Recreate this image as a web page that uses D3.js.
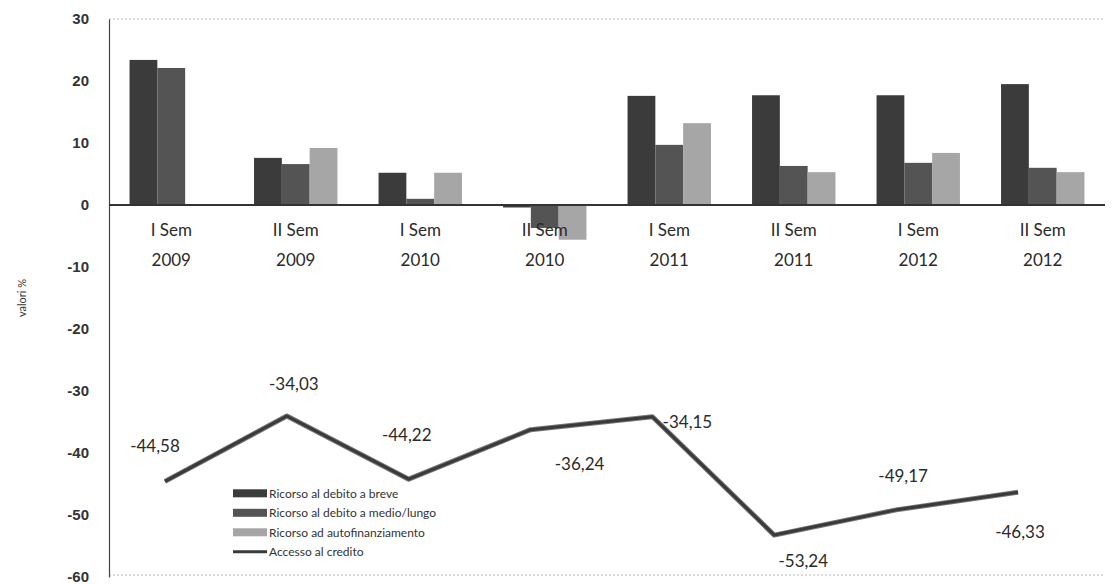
<!DOCTYPE html>
<html>
<head>
<meta charset="utf-8">
<script src="https://cdn.jsdelivr.net/npm/d3@7"></script>
<style>
  body { margin: 0; background: #fff; }
  svg { font-family: Lato, "Open Sans", sans-serif; }
  .tick-label { font-size: 15px; font-weight: bold; fill: #333; }
  .cat-label { font-size: 17px; fill: #2a2a2a; }
  .val-label { font-size: 17px; fill: #2a2a2a; }
  .legend text { font-size: 12px; fill: #333; }
</style>
</head>
<body>
<svg width="1112" height="584"></svg>
<script>
// categories and values
const categories = [["I Sem", "2009"], ["II Sem", "2009"], ["I Sem", "2010"], ["II Sem", "2010"],
                    ["I Sem", "2011"], ["II Sem", "2011"], ["I Sem", "2012"], ["II Sem", "2012"]];
const debitoBreve = [23.4, 7.6, 5.2, -0.4, 17.6, 17.7, 17.7, 19.5];
const debitoMedioLungo = [22.1, 6.6, 1.0, -3.7, 9.7, 6.3, 6.8, 6.0];
const autofinanziamento = [0, 9.2, 5.2, -5.6, 13.2, 5.3, 8.4, 5.3];
const accessoCredito = [-44.58, -34.03, -44.22, -36.24, -34.15, -53.24, -49.17, -46.33];
const yTicks = [30, 20, 10, 0, -10, -20, -30, -40, -50, -60];
const seriesNames = ["Ricorso al debito a breve", "Ricorso al debito a medio/lungo",
                     "Ricorso ad autofinanziamento", "Accesso al credito"];

const barColors = ["#3b3b3b", "#545454", "#a6a6a6"];
const lineColor = "#3a3a3a";
// where each value label sits relative to its point
const labelOffsets = [[-10, -36], [7, -32], [-2, -45], [49, 34], [35, 5], [29, 25], [7, -34], [2, 39]];

const svg = d3.select("svg");
const width = +svg.attr("width");
const height = +svg.attr("height");
const margin = { top: 19, right: 7, bottom: 7, left: 109 };

const keys = categories.map(c => c.join(" "));
const barSeries = [debitoBreve, debitoMedioLungo, autofinanziamento];

const x = d3.scaleBand().domain(keys).range([margin.left, width - margin.right]).paddingInner(0.33).paddingOuter(0.165);
const xSub = d3.scaleBand().domain(d3.range(3)).range([0, x.bandwidth()]);
const xLine = d3.scalePoint().domain(keys).range([margin.left + 56, width - margin.right - 87]);
const y = d3.scaleLinear().domain([-60, 30]).range([height - margin.bottom, margin.top]);

// frame
svg.append("line")
  .attr("x1", margin.left).attr("x2", width - margin.right)
  .attr("y1", y(30)).attr("y2", y(30))
  .attr("stroke", "#bbb").attr("stroke-dasharray", "2,2");
svg.append("line")
  .attr("x1", margin.left).attr("x2", width - margin.right)
  .attr("y1", y(-60) - 2).attr("y2", y(-60) - 2)
  .attr("stroke", "#bbb").attr("stroke-dasharray", "2,2");

// y axis
const yAxis = d3.axisLeft(y).tickValues(yTicks).tickSize(0).tickPadding(20)
  .tickFormat(d => String(d));
const yAxisG = svg.append("g").attr("transform", `translate(${margin.left},0)`).call(yAxis);
yAxisG.select(".domain").attr("stroke", "#444").attr("stroke-width", 1.2);
yAxisG.selectAll("text").attr("class", "tick-label");

svg.append("text")
  .attr("transform", `translate(26,${y(-15)}) rotate(-90)`)
  .attr("text-anchor", "middle")
  .style("font-size", "11px").style("fill", "#333")
  .text("valori %");

// bars
const groups = svg.append("g").selectAll("g")
  .data(keys).join("g")
  .attr("transform", d => `translate(${x(d)},0)`);
groups.selectAll("rect")
  .data((d, i) => barSeries.map((s, k) => ({ k, v: s[i] })))
  .join("rect")
  .attr("x", d => xSub(d.k))
  .attr("width", xSub.bandwidth())
  .attr("y", d => y(Math.max(0, d.v)))
  .attr("height", d => Math.abs(y(d.v) - y(0)))
  .attr("fill", d => barColors[d.k]);

// zero line
svg.append("line")
  .attr("x1", margin.left).attr("x2", width - margin.right)
  .attr("y1", y(0)).attr("y2", y(0))
  .attr("stroke", "#333").attr("stroke-width", 2);

// category labels
const cat = svg.append("g").selectAll("text")
  .data(categories).join("text")
  .attr("class", "cat-label")
  .attr("text-anchor", "middle")
  .attr("x", (d, i) => x(keys[i]) + x.bandwidth() / 2)
  .attr("y", y(0) + 31);
cat.append("tspan").text(d => d[0]);
cat.append("tspan")
  .attr("x", (d, i) => x(keys[i]) + x.bandwidth() / 2)
  .attr("dy", 30).text(d => d[1]);

// line
const line = d3.line().x((d, i) => xLine(keys[i])).y(d => y(d));
svg.append("path")
  .datum(accessoCredito)
  .attr("fill", "none")
  .attr("stroke", "#777").attr("stroke-width", 5)
  .attr("stroke-linejoin", "round")
  .attr("d", line);
svg.append("path")
  .datum(accessoCredito)
  .attr("fill", "none")
  .attr("stroke", lineColor).attr("stroke-width", 3)
  .attr("stroke-linejoin", "round")
  .attr("d", line);

svg.append("g").selectAll("text")
  .data(accessoCredito).join("text")
  .attr("class", "val-label")
  .attr("text-anchor", "middle")
  .attr("dominant-baseline", "central")
  .attr("x", (d, i) => xLine(keys[i]) + labelOffsets[i][0])
  .attr("y", (d, i) => y(d) + labelOffsets[i][1])
  .text(d => d.toFixed(2).replace(".", ","));

// legend
const legend = svg.append("g").attr("class", "legend")
  .attr("transform", `translate(233,${y(-46.5)})`);
const items = legend.selectAll("g")
  .data(seriesNames).join("g")
  .attr("transform", (d, i) => `translate(0,${i * 19.5})`);
items.filter((d, i) => i < 3).append("rect")
  .attr("x", 0).attr("y", -4).attr("width", 34).attr("height", 8)
  .attr("fill", (d, i) => barColors[i]);
items.filter((d, i) => i === 3).append("line")
  .attr("x1", 0).attr("x2", 34).attr("y1", 0).attr("y2", 0)
  .attr("stroke", lineColor).attr("stroke-width", 3);
items.append("text")
  .attr("x", 36).attr("dominant-baseline", "central")
  .text(d => d);
</script>
</body>
</html>
